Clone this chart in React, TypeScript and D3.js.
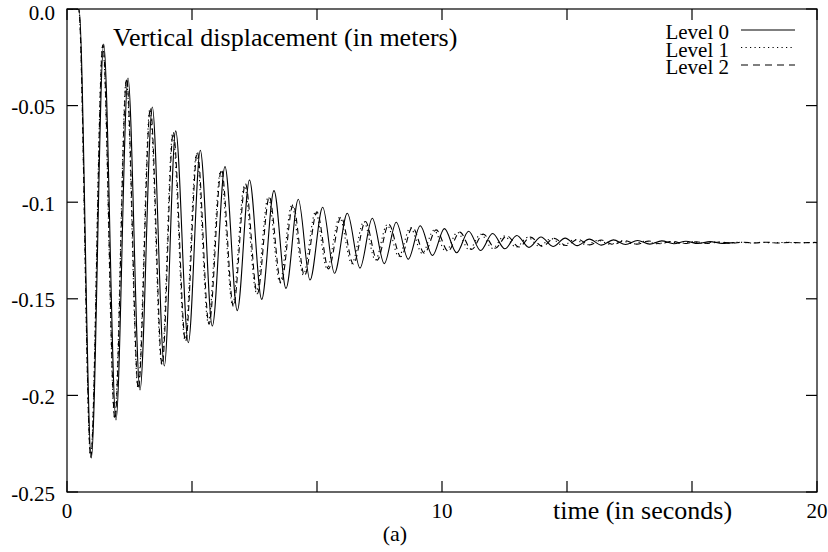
import { useEffect, useRef } from "react";
import * as d3 from "d3";

// extrema: [time (s), displacement (m)]
const level0: [number, number][] = [
  [0, 0], [0.32, 0], [0.648, -0.2324], [0.979, -0.0181], [1.307, -0.2127],
  [1.627, -0.0357], [1.947, -0.1972], [2.275, -0.0507], [2.595, -0.1848],
  [2.899, -0.0631], [3.235, -0.1727], [3.555, -0.0732], [3.875, -0.1641],
  [4.213, -0.0816], [4.541, -0.1561], [4.867, -0.0885], [5.192, -0.1503],
  [5.52, -0.094], [5.84, -0.1446], [6.168, -0.0985], [6.48, -0.1403],
  [6.819, -0.1026], [7.133, -0.1368], [7.475, -0.1057], [7.813, -0.1341],
  [8.141, -0.1083], [8.46, -0.1318], [8.78, -0.1104], [9.1, -0.1295],
  [9.42, -0.1122], [9.745, -0.1276], [10.065, -0.1137], [10.39, -0.1262],
  [10.71, -0.115], [11.03, -0.125], [11.35, -0.1162], [11.675, -0.1241],
  [11.995, -0.1172], [12.32, -0.1234], [12.64, -0.118], [12.96, -0.1229],
  [13.285, -0.1186], [13.605, -0.1225], [13.93, -0.1191], [14.25, -0.1222],
  [14.57, -0.1195], [14.895, -0.1219], [15.215, -0.1198], [15.54, -0.1217],
  [15.86, -0.12], [16.18, -0.1215], [16.505, -0.1202], [16.825, -0.1214],
  [17.15, -0.1204], [17.47, -0.1213], [17.8, -0.1209],
];

const level1: [number, number][] = [
  [0, 0], [0.31, 0], [0.63, -0.2318], [0.952, -0.0188], [1.27, -0.2118],
  [1.581, -0.0366], [1.893, -0.1962], [2.211, -0.0518], [2.522, -0.1836],
  [2.818, -0.0645], [3.144, -0.1712], [3.455, -0.0748], [3.767, -0.1625],
  [4.095, -0.0838], [4.414, -0.1532], [4.731, -0.0915], [5.047, -0.1465],
  [5.365, -0.0972], [5.676, -0.1415], [5.995, -0.1015], [6.299, -0.1375],
  [6.628, -0.105], [6.933, -0.1342], [7.266, -0.1079], [7.594, -0.1318],
  [7.913, -0.11], [8.223, -0.1299], [8.534, -0.1117], [8.845, -0.1281],
  [9.156, -0.1132], [9.472, -0.1265], [9.783, -0.1145], [10.099, -0.1254],
  [10.41, -0.1156], [10.721, -0.1246], [11.032, -0.1166], [11.348, -0.1239],
  [11.659, -0.1175], [11.975, -0.1233], [12.286, -0.1182], [12.597, -0.1228],
  [12.913, -0.1188], [13.224, -0.1224], [13.54, -0.1193], [13.851, -0.1221],
  [14.162, -0.1197], [14.478, -0.1218], [14.789, -0.12], [15.105, -0.1216],
  [15.416, -0.1202], [15.727, -0.1215], [16.043, -0.1204], [16.354, -0.1213],
  [16.67, -0.1205], [16.981, -0.1212], [17.29, -0.1206], [17.6, -0.1212],
  [17.91, -0.1207], [18.22, -0.1211], [18.53, -0.1208], [18.84, -0.121],
  [19.15, -0.1208], [19.46, -0.121], [19.77, -0.1209], [20, -0.1209],
];

const level2: [number, number][] = [
  [0, 0], [0.31, 0], [0.634, -0.232], [0.957, -0.0185], [1.278, -0.2122],
  [1.59, -0.0362], [1.903, -0.1966], [2.224, -0.0513], [2.537, -0.1842],
  [2.834, -0.0638], [3.162, -0.172], [3.475, -0.074], [3.788, -0.1632],
  [4.118, -0.083], [4.439, -0.154], [4.758, -0.0905], [5.075, -0.1474],
  [5.396, -0.0973], [5.709, -0.142], [6.029, -0.1013], [6.334, -0.138],
  [6.666, -0.105], [6.973, -0.1345], [7.307, -0.1077], [7.637, -0.132],
  [7.958, -0.11], [8.27, -0.13], [8.583, -0.1115], [8.9, -0.1282],
  [9.213, -0.113], [9.531, -0.1264], [9.844, -0.1143], [10.161, -0.1253],
  [10.474, -0.1155], [10.787, -0.1245], [11.1, -0.1165], [11.418, -0.1238],
  [11.731, -0.1174], [12.049, -0.1232], [12.362, -0.1181], [12.675, -0.1228],
  [12.993, -0.1187], [13.306, -0.1224], [13.624, -0.1192], [13.937, -0.1221],
  [14.249, -0.1196], [14.567, -0.1219], [14.88, -0.1199], [15.198, -0.1217],
  [15.511, -0.1201], [15.824, -0.1215], [16.142, -0.1203], [16.455, -0.1214],
  [16.773, -0.1205], [17.084, -0.1213], [17.4, -0.1206], [17.71, -0.1212],
  [18.03, -0.1207], [18.34, -0.1211], [18.65, -0.1207], [18.96, -0.1211],
  [19.28, -0.1208], [19.59, -0.121], [19.9, -0.1208], [20, -0.1209],
];

const seriesNames = ["Level 0", "Level 1", "Level 2"];
const seriesDash = ["none", "1.2,3.3", "6,4"];

const xTicks = [0, 3.3333, 6.6667, 10, 13.3333, 16.6667, 20];
const xTickLabels = ["0", "", "", "10", "", "", "20"];
const yTicks = [0, -0.05, -0.1, -0.15, -0.2, -0.25];
const yTickLabels = ["0.0", "-0.05", "-0.1", "-0.15", "-0.2", "-0.25"];

const FONT = "'Liberation Serif', 'Times New Roman', serif";

export default function App() {
  const svgRef = useRef<SVGSVGElement | null>(null);

  useEffect(() => {
    if (!svgRef.current) return;
    const svg = d3.select(svgRef.current);
    svg.selectAll("*").remove();

    const left = 67, right = 817, top = 9, bottom = 492;
    const tickLen = 11;

    const x = d3.scaleLinear().domain([0, 20]).range([left, right]);
    const y = d3.scaleLinear().domain([-0.25, 0]).range([bottom, top]);

    svg
      .append("defs")
      .append("clipPath")
      .attr("id", "plot-clip")
      .append("rect")
      .attr("x", left)
      .attr("y", top)
      .attr("width", right - left)
      .attr("height", bottom - top);

    const line = d3
      .line<[number, number]>()
      .x((d) => x(d[0]))
      .y((d) => y(d[1]))
      .curve(d3.curveMonotoneX);

    const plot = svg.append("g").attr("clip-path", "url(#plot-clip)");
    [level0, level1, level2].forEach((s, i) => {
      plot
        .append("path")
        .datum(s)
        .attr("fill", "none")
        .attr("stroke", "#000")
        .attr("stroke-width", 1.1)
        .attr("stroke-dasharray", seriesDash[i])
        .attr("d", line);
    });

    // frame
    svg
      .append("rect")
      .attr("x", left)
      .attr("y", top)
      .attr("width", right - left)
      .attr("height", bottom - top)
      .attr("fill", "none")
      .attr("stroke", "#000")
      .attr("stroke-width", 1.2);

    const ticks = svg.append("g").attr("stroke", "#000").attr("stroke-width", 1.2);
    xTicks.forEach((t) => {
      ticks.append("line").attr("x1", x(t)).attr("x2", x(t)).attr("y1", bottom).attr("y2", bottom - tickLen);
      ticks.append("line").attr("x1", x(t)).attr("x2", x(t)).attr("y1", top).attr("y2", top + tickLen);
    });
    yTicks.forEach((t) => {
      ticks.append("line").attr("x1", left).attr("x2", left + tickLen).attr("y1", y(t)).attr("y2", y(t));
      ticks.append("line").attr("x1", right).attr("x2", right - tickLen).attr("y1", y(t)).attr("y2", y(t));
    });

    const text = svg.append("g").attr("font-family", FONT).attr("fill", "#000");

    xTicks.forEach((t, i) => {
      if (!xTickLabels[i]) return;
      text
        .append("text")
        .attr("x", x(t))
        .attr("y", 518)
        .attr("text-anchor", "middle")
        .attr("font-size", 21)
        .text(xTickLabels[i]);
    });

    yTicks.forEach((t, i) => {
      text
        .append("text")
        .attr("x", 55)
        .attr("y", Math.max(y(t) + 8.5, 20))
        .attr("text-anchor", "end")
        .attr("font-size", 21)
        .text(yTickLabels[i]);
    });

    text
      .append("text")
      .attr("x", 113)
      .attr("y", 46)
      .attr("font-size", 26)
      .text("Vertical displacement (in meters)");

    text
      .append("text")
      .attr("x", 553)
      .attr("y", 519)
      .attr("font-size", 26)
      .text("time (in seconds)");

    text
      .append("text")
      .attr("x", 395)
      .attr("y", 541)
      .attr("text-anchor", "middle")
      .attr("font-size", 22)
      .text("(a)");

    // legend
    seriesNames.forEach((name, i) => {
      const base = 39 + i * 17.5;
      text
        .append("text")
        .attr("x", 729)
        .attr("y", base)
        .attr("text-anchor", "end")
        .attr("font-size", 21)
        .text(name);
      svg
        .append("line")
        .attr("x1", 741)
        .attr("x2", 795)
        .attr("y1", base - 9)
        .attr("y2", base - 9)
        .attr("stroke", "#000")
        .attr("stroke-width", 1.1)
        .attr("stroke-dasharray", i === 2 ? "7,5" : seriesDash[i]);
    });
  }, []);

  return (
    <svg
      ref={svgRef}
      width={828}
      height={552}
      style={{ position: "absolute", left: 0, top: 0, background: "#fff" }}
    />
  );
}
